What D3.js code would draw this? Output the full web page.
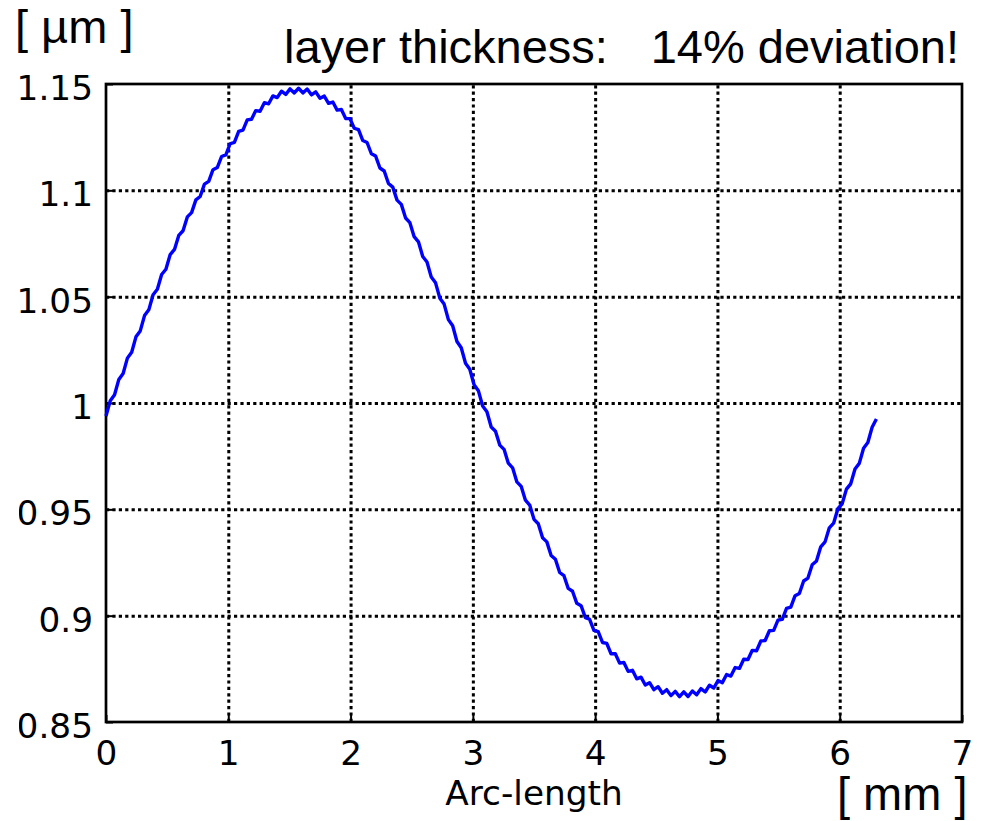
<!DOCTYPE html>
<html>
<head>
<meta charset="utf-8">
<script src="https://cdn.jsdelivr.net/npm/d3@7"></script>
<style>
  body { margin: 0; background: #fff; }
  svg { display: block; }
</style>
</head>
<body>
<div id="chart"></div>
<script>
// axis ticks
var xTicks = [0, 1, 2, 3, 4, 5, 6, 7];
var yTicks = [0.85, 0.9, 0.95, 1, 1.05, 1.1, 1.15];
var yTickLabels = ['0.85', '0.9', '0.95', '1', '1.05', '1.1', '1.15'];
var xGrid = [1, 2, 3, 4, 5, 6];
var yGrid = [0.9, 0.95, 1, 1.05, 1.1];

// layer thickness [um], one sample every arcStep mm of arc-length
var arcStep = 0.035;
var thickness = [
  0.9939, 1.0011, 1.0039, 1.0111, 1.0139, 1.0211, 1.0239, 1.0311, 1.0339, 1.0411,
  1.0438, 1.0509, 1.0535, 1.0604, 1.0629, 1.0698, 1.0722, 1.0788, 1.0810, 1.0875,
  1.0895, 1.0955, 1.0971, 1.1029, 1.1042, 1.1097, 1.1107, 1.1159, 1.1167, 1.1219,
  1.1226, 1.1277, 1.1283, 1.1331, 1.1334, 1.1375, 1.1372, 1.1412, 1.1407, 1.1444,
  1.1436, 1.1466, 1.1451, 1.1477, 1.1458, 1.1480, 1.1458, 1.1476, 1.1449, 1.1463,
  1.1433, 1.1443, 1.1409, 1.1415, 1.1377, 1.1380, 1.1338, 1.1337, 1.1292, 1.1285,
  1.1234, 1.1225, 1.1172, 1.1161, 1.1105, 1.1091, 1.1032, 1.1015, 1.0954, 1.0934,
  1.0870, 1.0848, 1.0782, 1.0758, 1.0689, 1.0663, 1.0592, 1.0565, 1.0493, 1.0465,
  1.0392, 1.0363, 1.0289, 1.0260, 1.0187, 1.0159, 1.0086, 1.0058, 0.9986, 0.9959,
  0.9887, 0.9867, 0.9802, 0.9782, 0.9717, 0.9695, 0.9629, 0.9608, 0.9543, 0.9520,
  0.9453, 0.9432, 0.9366, 0.9347, 0.9283, 0.9265, 0.9203, 0.9188, 0.9128, 0.9115,
  0.9058, 0.9047, 0.8991, 0.8983, 0.8931, 0.8925, 0.8874, 0.8870, 0.8821, 0.8821,
  0.8777, 0.8780, 0.8738, 0.8743, 0.8703, 0.8711, 0.8674, 0.8685, 0.8652, 0.8666,
  0.8635, 0.8652, 0.8624, 0.8644, 0.8619, 0.8642, 0.8620, 0.8646, 0.8628, 0.8657,
  0.8641, 0.8673, 0.8660, 0.8695, 0.8685, 0.8723, 0.8716, 0.8756, 0.8752, 0.8795,
  0.8794, 0.8837, 0.8835, 0.8881, 0.8883, 0.8929, 0.8931, 0.8979, 0.8983, 0.9034,
  0.9040, 0.9094, 0.9104, 0.9163, 0.9177, 0.9239, 0.9257, 0.9324, 0.9347, 0.9413,
  0.9435, 0.9503, 0.9526, 0.9595, 0.9620, 0.9690, 0.9716, 0.9787, 0.9814, 0.9886,
  0.9925
];

var w = 984, h = 821;
var plotLeft = 106, plotRight = 962, plotTop = 84, plotBottom = 722;
var labelFont = '33px "DejaVu Sans", Verdana, sans-serif';
var noteFont = '47px "Liberation Sans", Arial, sans-serif';

var x = d3.scaleLinear().domain([0, 7]).range([plotLeft, plotRight]);
var y = d3.scaleLinear().domain([0.85, 1.15]).range([plotBottom, plotTop]);

var svg = d3.select('#chart')
  .append('svg')
  .attr('width', w)
  .attr('height', h);

svg.append('rect').attr('width', w).attr('height', h).attr('fill', '#fff');

// clip for the y labels, the left edge of the picture is cut
svg.append('clipPath').attr('id', 'leftcut')
  .append('rect').attr('x', 19).attr('y', 0).attr('width', w).attr('height', h);

// dotted grid
var gridX = svg.append('g')
  .attr('transform', 'translate(0,' + plotBottom + ')')
  .call(d3.axisBottom(x).tickValues(xGrid).tickSize(-(plotBottom - plotTop)).tickFormat(''));
gridX.select('.domain').remove();

var gridY = svg.append('g')
  .attr('transform', 'translate(' + plotLeft + ',0)')
  .call(d3.axisLeft(y).tickValues(yGrid).tickSize(-(plotRight - plotLeft)).tickFormat(''));
gridY.select('.domain').remove();

svg.selectAll('.tick line')
  .attr('stroke', '#000')
  .attr('stroke-width', 3)
  .attr('stroke-dasharray', '3.2,3.2');

// ticks and labels
var xAxis = svg.append('g')
  .attr('transform', 'translate(0,' + plotBottom + ')')
  .call(d3.axisBottom(x).tickValues(xTicks).tickSize(-7).tickFormat(d3.format('d')));
xAxis.select('.domain').remove();
xAxis.selectAll('line').attr('stroke', '#000').attr('stroke-width', 2);
xAxis.selectAll('text')
  .attr('y', null).attr('dy', null)
  .attr('transform', 'translate(0,43) scale(1.04,1)')
  .attr('fill', '#000')
  .style('font', labelFont);

var yWrap = svg.append('g').attr('clip-path', 'url(#leftcut)');
var yAxis = yWrap.append('g')
  .attr('transform', 'translate(' + plotLeft + ',0)')
  .call(d3.axisLeft(y).tickValues(yTicks).tickSize(-7)
    .tickFormat(function(d, i) { return yTickLabels[i]; }));
yAxis.select('.domain').remove();
yAxis.selectAll('line').attr('stroke', '#000').attr('stroke-width', 2);
yAxis.selectAll('text')
  .attr('x', null).attr('dy', null)
  .attr('transform', 'translate(-13,15.5) scale(1.04,1)')
  .attr('fill', '#000')
  .style('font', labelFont);

// frame
svg.append('rect')
  .attr('x', plotLeft)
  .attr('y', plotTop)
  .attr('width', plotRight - plotLeft)
  .attr('height', plotBottom - plotTop)
  .attr('fill', 'none')
  .attr('stroke', '#000')
  .attr('stroke-width', 2.7);

// thickness curve
var line = d3.line()
  .x(function(d, i) { return x(i * arcStep); })
  .y(function(d) { return y(d); });

svg.append('path')
  .datum(thickness)
  .attr('d', line)
  .attr('fill', 'none')
  .attr('stroke', '#0000ff')
  .attr('stroke-width', 3.4)
  .attr('stroke-linejoin', 'round');

// axis title
svg.append('text')
  .text('Arc-length')
  .attr('text-anchor', 'middle')
  .attr('transform', 'translate(' + (plotLeft + plotRight) / 2 + ',805) scale(1.04,1)')
  .attr('fill', '#000')
  .style('font', labelFont);

// slide notes
svg.append('text').text('[ \u00b5m ]')
  .attr('x', 15).attr('y', 43)
  .style('font', noteFont);

svg.append('text').text('layer thickness:')
  .attr('x', 284).attr('y', 63)
  .style('font', noteFont);

svg.append('text').text('14% deviation!')
  .attr('x', 959).attr('y', 63)
  .attr('text-anchor', 'end')
  .style('font', noteFont);

svg.append('text').text('[ mm ]')
  .attr('x', 837).attr('y', 810)
  .style('font', noteFont);
</script>
</body>
</html>
